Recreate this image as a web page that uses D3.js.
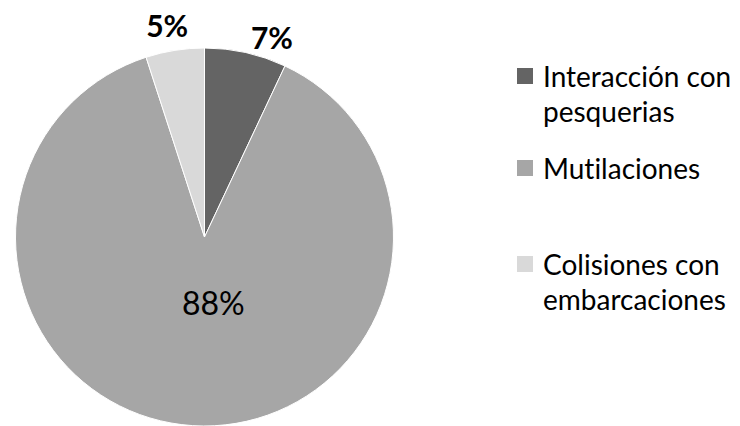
<!DOCTYPE html>
<html>
<head>
<meta charset="utf-8">
<script src="https://cdn.jsdelivr.net/npm/d3@7"></script>
<style>
  html, body { margin: 0; padding: 0; background: #fff; }
  svg { display: block; font-family: Lato, "Open Sans", sans-serif; font-variant-ligatures: none; }
</style>
</head>
<body>
<svg id="chart" width="740" height="426"></svg>
<script>
// Causes, their shares (%) and fill colours
const categories = ["Interacción con pesquerias", "Mutilaciones", "Colisiones con embarcaciones"];
const legendLines = [["Interacción con", "pesquerias"], ["Mutilaciones"], ["Colisiones con", "embarcaciones"]];
const values = [7, 88, 5];
const colors = ["#646464", "#a6a6a6", "#d9d9d9"];

// Label placement tweaks (px) relative to the computed anchor of each slice label
const labelShift = [[21, 9], [13, 0], [-4, 0]];

const svg = d3.select("#chart");
const cx = 204.5, cy = 237, R = 189;

const data = categories.map((c, i) => ({
  name: c, value: values[i], color: colors[i], lines: legendLines[i], shift: labelShift[i]
}));

const pie = d3.pie().value(d => d.value).sort(null);
const arc = d3.arc().innerRadius(0).outerRadius(R);
const arcs = pie(data);

const g = svg.append("g").attr("transform", `translate(${cx},${cy})`);

g.selectAll("path.slice")
  .data(arcs)
  .enter().append("path")
  .attr("class", "slice")
  .attr("d", arc)
  .attr("fill", d => d.data.color)
  .attr("stroke", "#fff")
  .attr("stroke-width", 1);

// Percentage labels: the large slice is labelled inside, small ones just outside the rim
const insideArc = d3.arc().innerRadius(R * 0.35).outerRadius(R * 0.35);
const outsideArc = d3.arc().innerRadius(R + 24).outerRadius(R + 24);
arcs.forEach(d => {
  const big = d.data.value > 20;
  const [x, y] = (big ? insideArc : outsideArc).centroid(d);
  g.append("text")
    .attr("x", x + d.data.shift[0])
    .attr("y", y + d.data.shift[1])
    .attr("dy", "0.36em")
    .attr("text-anchor", "middle")
    .attr("font-size", big ? 32 : 30)
    .attr("font-weight", big ? "normal" : "bold")
    .attr("fill", "#000")
    .text(d.data.value + "%");
});

// Legend
const legend = svg.append("g").attr("transform", "translate(517,0)");
const rowTops = [68, 160, 256];
data.forEach((d, i) => {
  const row = legend.append("g").attr("transform", `translate(0,${rowTops[i]})`);
  row.append("rect")
    .attr("x", 0).attr("y", 0)
    .attr("width", 16).attr("height", 16)
    .attr("fill", d.color);
  const txt = row.append("text")
    .attr("y", 19)
    .attr("font-size", 28)
    .attr("fill", "#000");
  d.lines.forEach((ln, j) => {
    txt.append("tspan").attr("x", 26).attr("dy", j === 0 ? 0 : 35).text(ln);
  });
});
</script>
</body>
</html>
